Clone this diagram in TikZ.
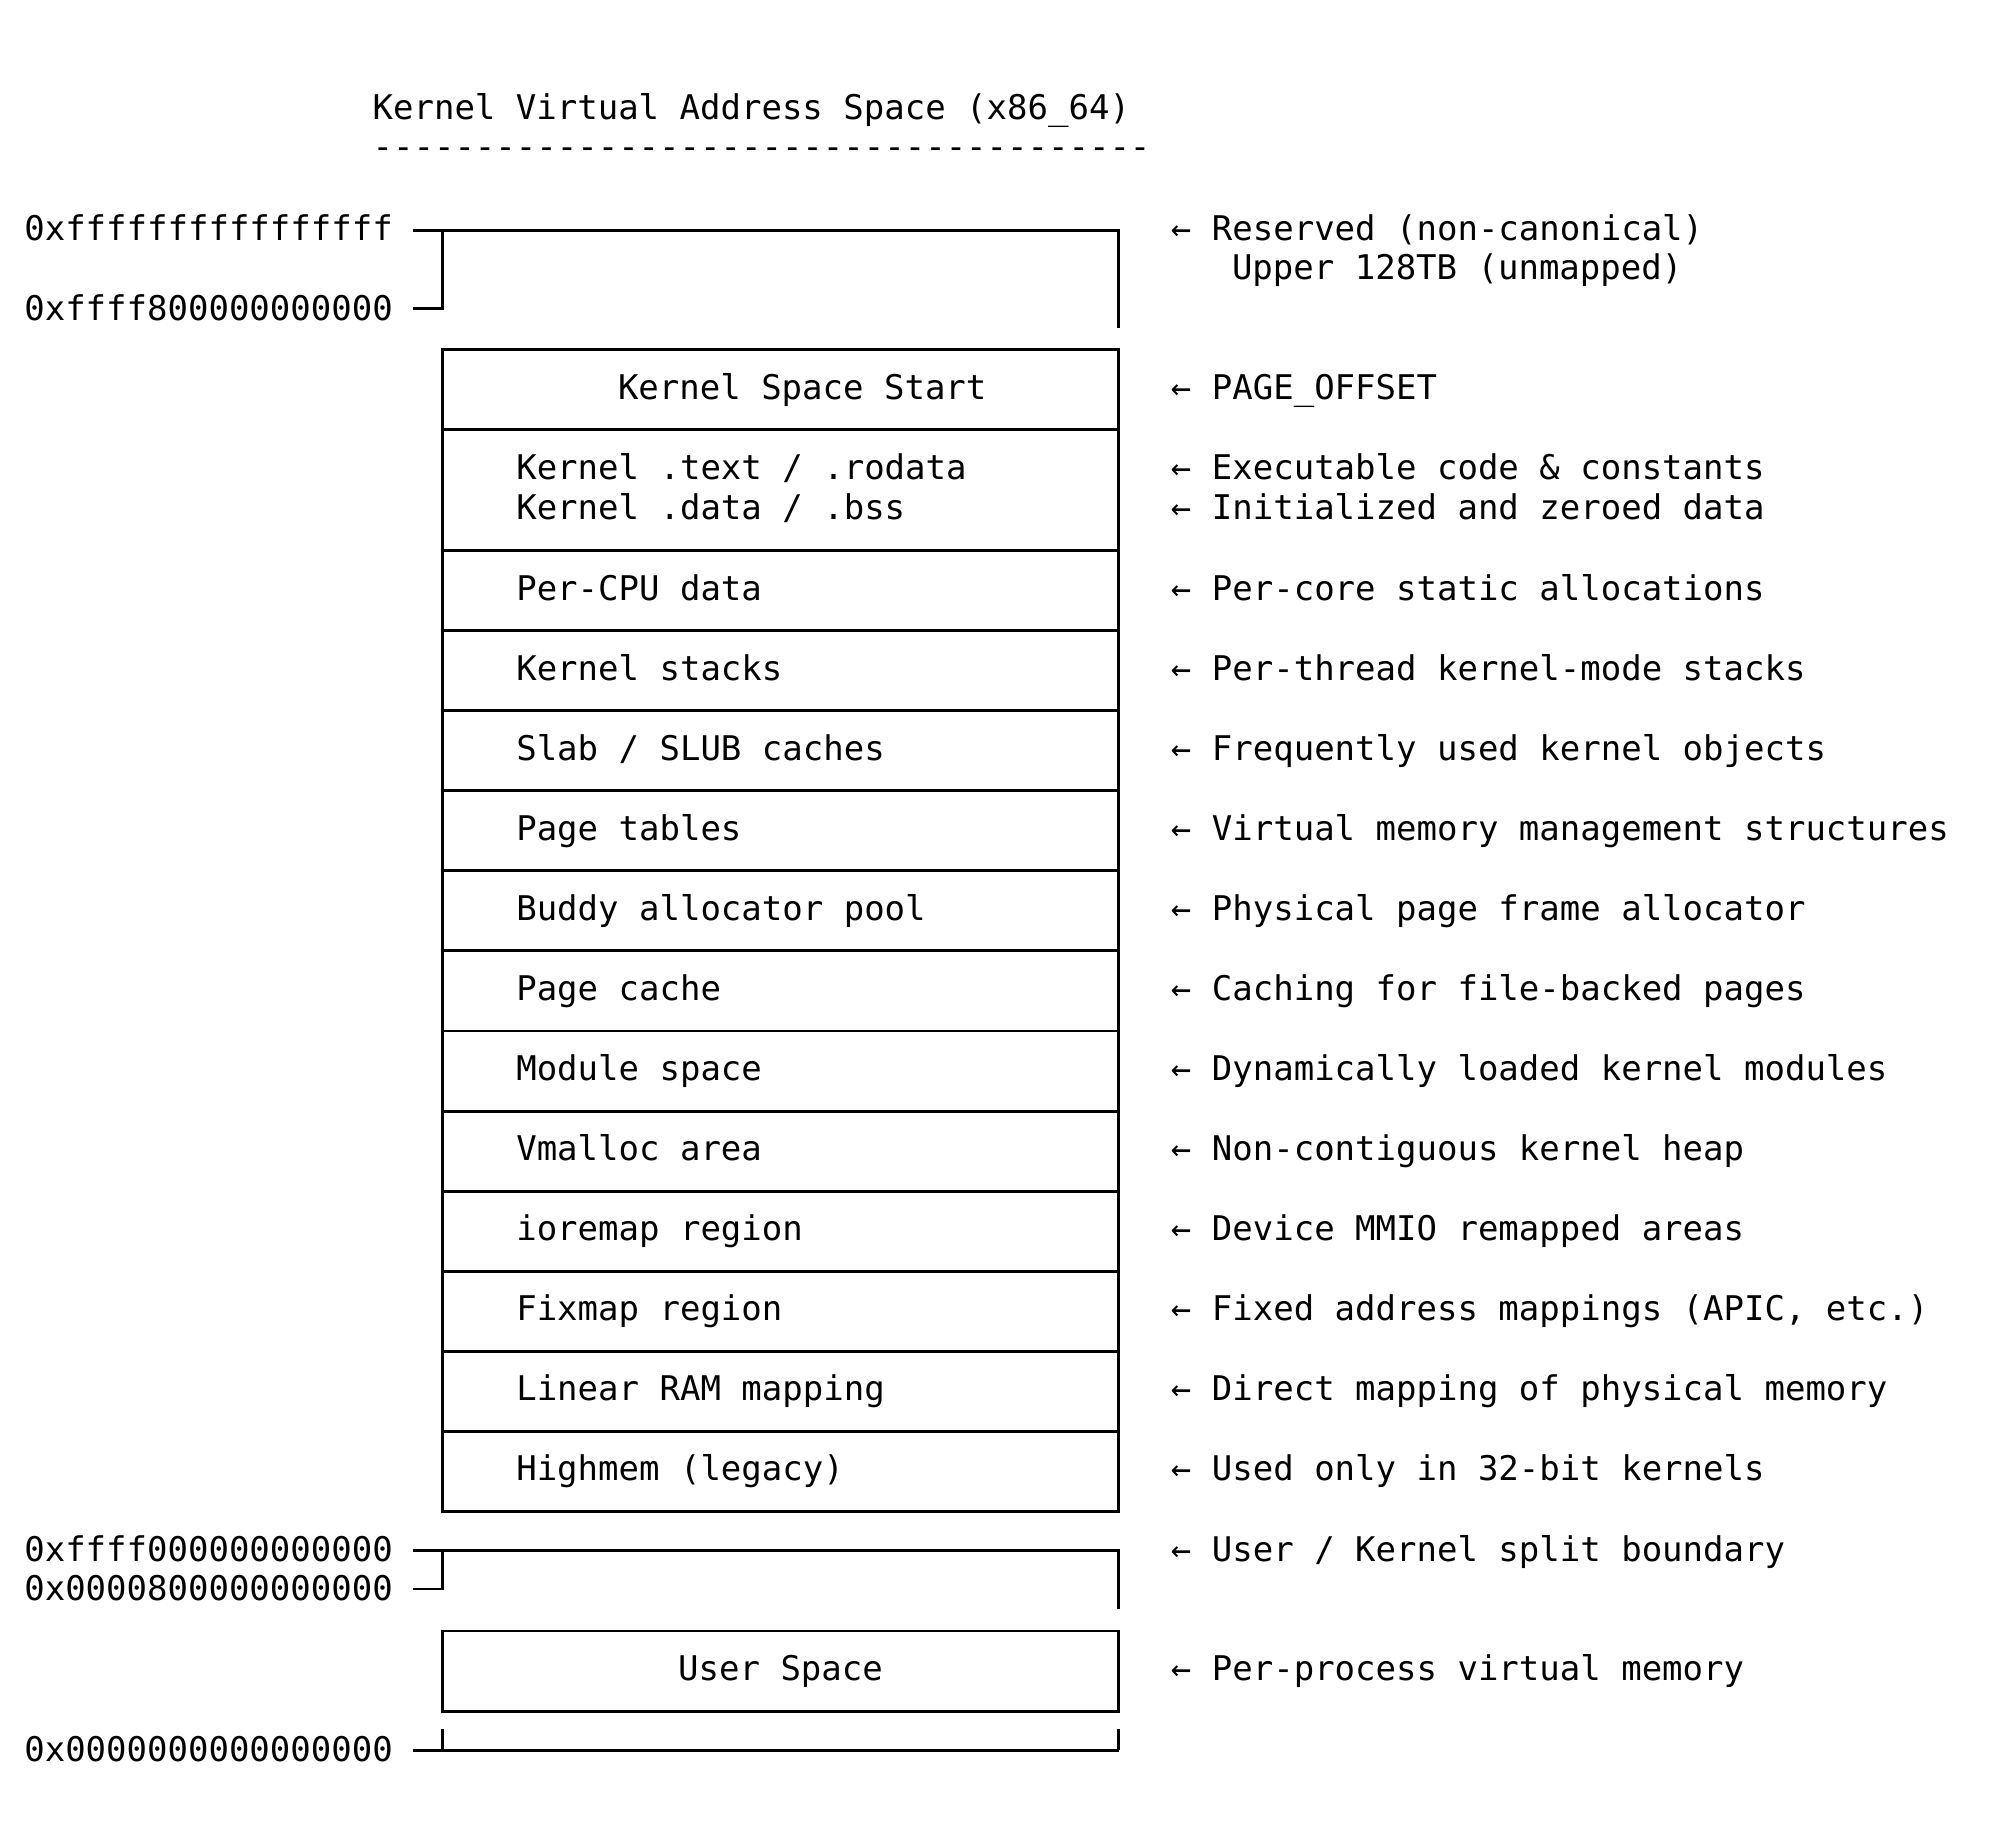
\documentclass[tikz,border=0pt]{standalone}
\usepackage{fontspec}
\setmonofont{DejaVu Sans Mono}
\begin{document}
\begin{tikzpicture}[x=0.63561pt,y=-0.63561pt,line width=1.45pt,
  txt/.style={font=\ttfamily\fontsize{17}{20}\selectfont,inner sep=0pt,anchor=base west},
  ctxt/.style={txt,anchor=base}]
\useasboundingbox (0,0) rectangle (1567,1433);
% title
\node[txt] (title) at (292,94) {Kernel Virtual Address Space (x86\_64)};
\node[txt] (rule) at (292,125) {\detokenize{--------------------------------------}};
% top bracket
\node[txt] (a1) at (18,189) {0xffffffffffffffff};
\node[txt] (a2) at (18,252) {0xffff800000000000};
\draw (325,181) -- (880,181) -- (880,258);
\draw (348,181) -- (348,243) -- (325,243);
\node[txt] (n1) at (920,189) {← Reserved (non-canonical)};
\node[txt] (n1b) at (968,220) {Upper 128TB (unmapped)};
% kernel box
\draw (348,275) rectangle (880,1189);
\foreach \yy in {338,433,496,559,622,685,748,811,874,937,1000,1063,1126}
  \draw (348,\yy) -- (880,\yy);
\node[txt] (k0) at (485,314) {Kernel Space Start};
\node[txt] (k1) at (405,377) {Kernel .text / .rodata};
\node[txt] (k1b) at (405,409) {Kernel .data / .bss};
\node[txt] (k2) at (405,472) {Per-CPU data};
\node[txt] (k3) at (405,535) {Kernel stacks};
\node[txt] (k4) at (405,598) {Slab / SLUB caches};
\node[txt] (k5) at (405,661) {Page tables};
\node[txt] (k6) at (405,724) {Buddy allocator pool};
\node[txt] (k7) at (405,787) {Page cache};
\node[txt] (k8) at (405,850) {Module space};
\node[txt] (k9) at (405,913) {Vmalloc area};
\node[txt] (k10) at (405,976) {ioremap region};
\node[txt] (k11) at (405,1039) {Fixmap region};
\node[txt] (k12) at (405,1102) {Linear RAM mapping};
\node[txt] (k13) at (405,1165) {Highmem (legacy)};
% annotations
\node[txt] (m0) at (920,314) {← PAGE\_OFFSET};
\node[txt] (m1) at (920,377) {← Executable code \& constants};
\node[txt] (m1b) at (920,409) {← Initialized and zeroed data};
\node[txt] (m2) at (920,472) {← Per-core static allocations};
\node[txt] (m3) at (920,535) {← Per-thread kernel-mode stacks};
\node[txt] (m4) at (920,598) {← Frequently used kernel objects};
\node[txt] (m5) at (920,661) {← Virtual memory management structures};
\node[txt] (m6) at (920,724) {← Physical page frame allocator};
\node[txt] (m7) at (920,787) {← Caching for file-backed pages};
\node[txt] (m8) at (920,850) {← Dynamically loaded kernel modules};
\node[txt] (m9) at (920,913) {← Non-contiguous kernel heap};
\node[txt] (m10) at (920,976) {← Device MMIO remapped areas};
\node[txt] (m11) at (920,1039) {← Fixed address mappings (APIC, etc.)};
\node[txt] (m12) at (920,1102) {← Direct mapping of physical memory};
\node[txt] (m13) at (920,1165) {← Used only in 32-bit kernels};
% split bracket
\node[txt] (b1) at (18,1228) {0xffff000000000000};
\node[txt] (b2) at (18,1259) {0x0000800000000000};
\draw (325,1220) -- (880,1220) -- (880,1266);
\draw (348,1220) -- (348,1250) -- (325,1250);
\node[txt] (s1) at (920,1228) {← User / Kernel split boundary};
% user box
\draw (348,1283) rectangle (880,1346);
\node[ctxt] (u0) at (614,1322) {User Space};
\node[txt] (s2) at (920,1322) {← Per-process virtual memory};
% bottom
\node[txt] (c1) at (18,1386) {0x0000000000000000};
\draw (348,1360) -- (348,1377);
\draw (880,1360) -- (880,1377);
\draw (325,1377) -- (880,1377);
\end{tikzpicture}
\end{document}
